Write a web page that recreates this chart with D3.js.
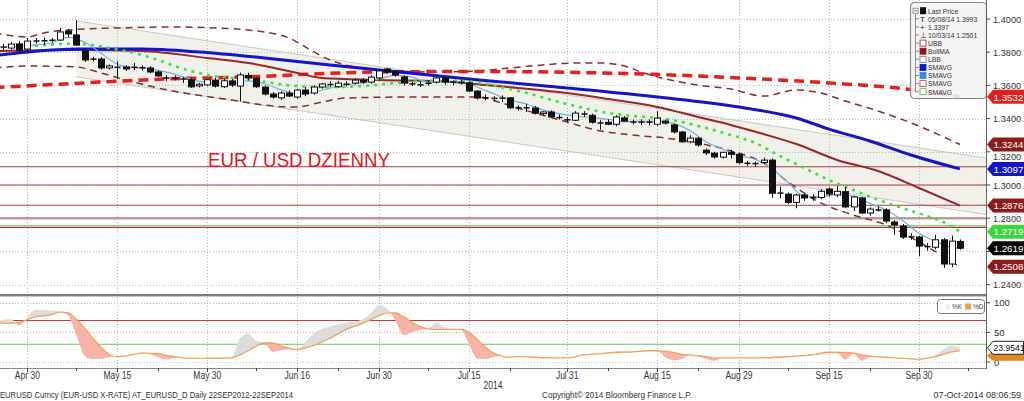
<!DOCTYPE html>
<html><head><meta charset="utf-8">
<script src="https://cdn.jsdelivr.net/npm/d3@7"></script>
<style>body{margin:0;background:#fff}svg{display:block}text{font-family:"Liberation Sans",Arial,sans-serif}</style>
</head><body><svg id="c" width="1024" height="401"></svg>
<script>
// ---------- DATA ----------
const tradingDays = d3.timeDay.range(new Date(2014,3,24), new Date(2014,9,9))
  .filter(d => d.getDay() !== 0 && d.getDay() !== 6).map(d3.timeFormat("%m-%d"));
const candleDates = tradingDays.slice(1, 119); // 04-25 .. 10-07

const openV = [1.3833,1.3825,1.3850,1.3819,1.3866,1.3870,1.3870,1.3873,1.3927,1.3904,1.3807,1.3757,1.3759,1.3705,1.3712,1.3711,1.3707,1.3708,1.3705,1.3681,1.3640,1.3642,1.3640,1.3634,1.3597,1.3603,1.3632,1.3592,1.3627,1.3596,1.3660,1.3643,1.3590,1.3548,1.3525,1.3554,1.3530,1.3572,1.3554,1.3590,1.3608,1.3592,1.3606,1.3614,1.3632,1.3620,1.3645,1.3699,1.3680,1.3651,1.3610,1.3605,1.3610,1.3620,1.3645,1.3618,1.3620,1.3615,1.3566,1.3525,1.3524,1.3522,1.3525,1.3465,1.3463,1.3464,1.3430,1.3440,1.3410,1.3395,1.3390,1.3430,1.3420,1.3375,1.3378,1.3366,1.3404,1.3380,1.3378,1.3380,1.3366,1.3385,1.3362,1.3319,1.3260,1.3282,1.3210,1.3192,1.3168,1.3197,1.3185,1.3130,1.3130,1.3135,1.3150,1.2950,1.2945,1.2895,1.2940,1.2922,1.2925,1.2976,1.2940,1.2960,1.2868,1.2922,1.2831,1.2850,1.2850,1.2777,1.2753,1.2685,1.2687,1.2632,1.2625,1.2670,1.2524,1.2660];
const highV = [1.3850,1.3862,1.3866,1.3886,1.3885,1.3887,1.3885,1.3946,1.3940,1.3993,1.3815,1.3773,1.3770,1.3725,1.3745,1.3722,1.3735,1.3720,1.3715,1.3690,1.3662,1.3660,1.3650,1.3645,1.3615,1.3640,1.3645,1.3640,1.3638,1.3677,1.3676,1.3650,1.3600,1.3560,1.3565,1.3570,1.3580,1.3590,1.3600,1.3615,1.3625,1.3625,1.3625,1.3645,1.3645,1.3660,1.3700,1.3705,1.3692,1.3660,1.3622,1.3625,1.3630,1.3650,1.3655,1.3630,1.3635,1.3625,1.3570,1.3545,1.3535,1.3540,1.3530,1.3480,1.3490,1.3475,1.3445,1.3450,1.3425,1.3410,1.3445,1.3445,1.3430,1.3390,1.3395,1.3420,1.3415,1.3395,1.3395,1.3395,1.3445,1.3395,1.3370,1.3325,1.3300,1.3290,1.3220,1.3200,1.3200,1.3212,1.3195,1.3145,1.3140,1.3165,1.3160,1.2990,1.2955,1.2948,1.2950,1.2945,1.2975,1.2985,1.2995,1.2990,1.2935,1.2930,1.2865,1.2870,1.2860,1.2788,1.2765,1.2710,1.2695,1.2650,1.2700,1.2680,1.2695,1.2672];
const lowV = [1.3812,1.3815,1.3800,1.3795,1.3852,1.3843,1.3858,1.3868,1.3890,1.3837,1.3741,1.3745,1.3695,1.3696,1.3640,1.3687,1.3692,1.3690,1.3673,1.3650,1.3625,1.3630,1.3615,1.3585,1.3588,1.3595,1.3587,1.3585,1.3590,1.3503,1.3630,1.3585,1.3540,1.3520,1.3512,1.3530,1.3520,1.3535,1.3545,1.3580,1.3590,1.3585,1.3595,1.3605,1.3610,1.3610,1.3635,1.3670,1.3652,1.3600,1.3595,1.3590,1.3598,1.3610,1.3605,1.3600,1.3605,1.3560,1.3515,1.3510,1.3505,1.3500,1.3460,1.3450,1.3440,1.3425,1.3420,1.3405,1.3395,1.3380,1.3385,1.3410,1.3370,1.3333,1.3360,1.3355,1.3380,1.3365,1.3360,1.3360,1.3355,1.3365,1.3310,1.3255,1.3250,1.3230,1.3180,1.3160,1.3160,1.3160,1.3125,1.3115,1.3110,1.3125,1.2922,1.2920,1.2885,1.2860,1.2905,1.2905,1.2915,1.2930,1.2925,1.2860,1.2843,1.2825,1.2815,1.2840,1.2770,1.2700,1.2675,1.2670,1.2570,1.2605,1.2612,1.2501,1.2505,1.2610];
const closeV = [1.3829,1.3849,1.3808,1.3867,1.3869,1.3868,1.3874,1.3922,1.3910,1.3843,1.3753,1.3760,1.3705,1.3717,1.3705,1.3699,1.3711,1.3705,1.3681,1.3657,1.3648,1.3643,1.3637,1.3591,1.3607,1.3634,1.3596,1.3628,1.3602,1.3663,1.3645,1.3592,1.3548,1.3530,1.3554,1.3536,1.3572,1.3548,1.3590,1.3609,1.3602,1.3614,1.3608,1.3632,1.3620,1.3650,1.3687,1.3680,1.3662,1.3614,1.3608,1.3602,1.3615,1.3645,1.3620,1.3620,1.3615,1.3566,1.3524,1.3526,1.3520,1.3525,1.3465,1.3463,1.3467,1.3432,1.3440,1.3410,1.3403,1.3390,1.3433,1.3425,1.3378,1.3372,1.3366,1.3410,1.3385,1.3378,1.3380,1.3378,1.3403,1.3373,1.3320,1.3260,1.3283,1.3241,1.3193,1.3169,1.3197,1.3185,1.3135,1.3131,1.3128,1.3150,1.2950,1.2952,1.2895,1.2940,1.2922,1.2925,1.2962,1.2945,1.2962,1.2868,1.2928,1.2831,1.2855,1.2849,1.2783,1.2759,1.2686,1.2690,1.2632,1.2625,1.2670,1.2524,1.2662,1.2619];

// Moving averages / bands
const smaBlueDates = ["04-24","04-30","05-08","05-20","05-29","06-10","06-20","06-30","07-15","07-31","08-15","08-29","09-09","09-15","09-22","09-29","10-07"];
const smaBlueVals  = [1.3780,1.3801,1.3819,1.3819,1.3801,1.3765,1.3723,1.3693,1.3639,1.3584,1.3530,1.3470,1.3404,1.3337,1.3265,1.3181,1.3097];
const bollMaDates = ["04-24","05-08","05-20","05-30","06-06","06-16","06-19","06-30","07-11","07-17","07-31","08-07","08-15","08-22","08-28","09-03","09-09","09-16","09-23","09-30","10-07"];
const bollMaVals  = [1.3807,1.3813,1.3807,1.3765,1.3735,1.3675,1.3645,1.3633,1.3621,1.3602,1.3554,1.3518,1.3470,1.3410,1.3362,1.3307,1.3247,1.3151,1.3084,1.2982,1.2876];
const smaGreenDates = ["04-29","05-02","05-08","05-12","05-14","05-16","05-20","05-22","05-26","05-28","05-30","06-04","06-10","06-16","06-20","06-26","07-02","07-08","07-14","07-17","07-22","07-25","07-30","08-04","08-07","08-12","08-15","08-20","08-25","08-28","09-02","09-05","09-10","09-15","09-18","09-23","09-26","10-01","10-03","10-07"];
const smaGreenVals  = [1.3831,1.3843,1.3852,1.3843,1.3825,1.3807,1.3783,1.3753,1.3717,1.3687,1.3663,1.3645,1.3621,1.3596,1.3590,1.3596,1.3614,1.3627,1.3627,1.3608,1.3578,1.3542,1.3500,1.3464,1.3434,1.3416,1.3404,1.3380,1.3343,1.3301,1.3253,1.3175,1.3102,1.3030,1.2970,1.2910,1.2861,1.2813,1.2777,1.2719];
const smaLightDates = ["04-25","04-29","05-01","05-05","05-07","05-09","05-13","05-15","05-19","05-21","05-23","05-27","05-29","06-02","06-04","06-06","06-10","06-12","06-16","06-18","06-20","06-24","06-26","06-30","07-02","07-04","07-08","07-10","07-14","07-16","07-18","07-22","07-24","07-28","07-30","08-01","08-05","08-07","08-11","08-13","08-15","08-19","08-21","08-25","08-27","08-29","09-02","09-04","09-08","09-10","09-12","09-16","09-18","09-22","09-24","09-26","09-30","10-02","10-06","10-07"];
const smaLightVals  = [1.3830,1.3835,1.3844,1.3857,1.3889,1.3860,1.3794,1.3728,1.3707,1.3700,1.3680,1.3653,1.3625,1.3613,1.3613,1.3627,1.3610,1.3574,1.3548,1.3560,1.3584,1.3605,1.3615,1.3639,1.3660,1.3650,1.3620,1.3618,1.3623,1.3589,1.3550,1.3512,1.3488,1.3453,1.3430,1.3415,1.3406,1.3395,1.3382,1.3384,1.3385,1.3371,1.3328,1.3259,1.3217,1.3176,1.3155,1.3099,1.3015,1.2932,1.2929,1.2943,1.2933,1.2889,1.2849,1.2786,1.2710,1.2661,1.2623,1.2620];
const smaRedDates = ["04-24","05-09","05-23","06-06","06-18","06-30","07-17","08-01","08-15","08-29","09-15","09-26","10-07"];
const smaRedVals  = [1.3587,1.3615,1.3639,1.3651,1.3669,1.3681,1.3684,1.3678,1.3666,1.3645,1.3615,1.3581,1.3532];
const ubbDates = ["04-24","04-30","05-02","05-09","05-15","05-23","06-02","06-06","06-13","06-17","06-20","06-25","06-30","07-08","07-16","07-22","07-28","08-01","08-06","08-11","08-13","08-18","08-22","08-28","09-03","09-09","09-12","09-17","09-23","09-30","10-07"];
const ubbVals  = [1.3916,1.3892,1.3916,1.3940,1.3946,1.3952,1.3946,1.3934,1.3886,1.3831,1.3753,1.3711,1.3693,1.3681,1.3687,1.3705,1.3723,1.3735,1.3735,1.3717,1.3681,1.3639,1.3602,1.3578,1.3536,1.3572,1.3554,1.3506,1.3446,1.3355,1.3244];
const lbbDates = ["04-24","04-30","05-08","05-13","05-16","05-22","05-28","06-04","06-11","06-16","06-19","06-24","07-04","07-16","07-21","07-25","07-31","08-05","08-12","08-18","08-22","08-28","09-03","09-08","09-12","09-18","09-24","09-30","10-07"];
const lbbVals  = [1.3705,1.3717,1.3711,1.3675,1.3633,1.3584,1.3548,1.3512,1.3476,1.3470,1.3500,1.3524,1.3530,1.3530,1.3494,1.3434,1.3380,1.3337,1.3301,1.3283,1.3253,1.3205,1.3133,1.3018,1.2892,1.2819,1.2759,1.2657,1.2508];

// trend channel (two anchor points each)
const channelDates = ["05-08","10-08"];
const channelUpper = [1.3988,1.3179];
const channelLower = [1.3651,1.2839];

// horizontal levels
const redLevels = [1.3110,1.3000,1.2878,1.2745];
const grayLevel = 1.2800;
const greenLevel = 1.2755;

// price axis ticks (1.2600 label is hidden behind the last-price tag in the original)
const priceTicks = [1.40,1.38,1.36,1.34,1.32,1.30,1.28,1.26,1.24];
const priceLabelTicks = [1.40,1.38,1.36,1.34,1.32,1.30,1.28,1.24];

// value tags
const tagVals   = [1.3532,1.3244,1.3097,1.2876,1.2719,1.2619,1.2508];
const tagColors = ["#e3201b","#8c1b1b","#1414c8","#8c1b1b","#3cd63c","#000000","#8c1b1b"];

// x axis
const xLabelDates = ["04-30","05-15","05-30","06-16","06-30","07-15","07-31","08-15","08-29","09-15","09-30"];
const xLabels = ["Apr 30","May 15","May 30","Jun 16","Jun 30","Jul 15","Jul 31","Aug 15","Aug 29","Sep 15","Sep 30"];
const xMinorDates = ["05-08","05-22","06-09","06-23","07-08","07-22","08-07","08-22","09-08","09-22","10-08"];

// stochastic
const stochDates = ["04-24","04-28","04-29","05-01","05-05","05-06","05-07","05-08","05-09","05-12","05-13","05-14","05-15","05-16","05-20","05-22","05-23","05-26","05-28","05-30","06-04","06-05","06-06","06-09","06-10","06-11","06-12","06-13","06-16","06-17","06-18","06-20","06-24","06-26","06-27","06-30","07-01","07-02","07-03","07-04","07-07","07-08","07-09","07-10","07-11","07-14","07-15","07-16","07-17","07-18","07-21","07-22","07-23","07-25","07-29","07-31","08-04","08-06","08-08","08-12","08-14","08-15","08-18","08-19","08-20","08-21","08-25","08-26","08-27","08-29","09-03","09-08","09-11","09-15","09-16","09-17","09-18","09-19","09-22","09-24","09-26","09-30","10-02","10-06","10-07"];
const stochD = [67,65,67,76,80,84,83,72,57,40,25,13,9,10,15,14,11,9,6,6,7,12,19,27,32,32,27,23,21,24,28,40,55,65,72,78,83,83,76,67,60,56,55,55,55,55,50,38,25,15,10,8,9,8,7,7,12,14,16,17,19,19,18,16,13,12,9,7,7,7,7,9,12,16,16,16,15,12,10,8,6,5,9,17,19];
const stochK = [70,72,62,88,87,85,78,45,10,5,5,8,10,12,16,8,4,7,6,7,9,40,48,35,33,17,20,21,20,34,48,60,66,72,82,96,90,70,45,50,54,56,66,58,55,55,30,6,5,8,10,8,9,8,7,8,13,15,18,18,20,20,8,3,5,12,5,2,7,7,8,10,13,18,16,4,14,2,8,8,6,4,12,28,23.9541];
const stochTicks = [100,50,0];
const stochLevels = [70,30];

// ---------- SCALES ----------
const svg = d3.select("#c");
const W = 1024, PR = 986;
const x = d3.scalePoint().domain(tradingDays).range([-5.38, 968.04]);
const y = d3.scaleLinear().domain([1.24, 1.40]).range([284.6, 19]);
const ys = d3.scaleLinear().domain([0, 100]).range([362, 302.7]);

function condense(sel, f) {
  sel.each(function(){ const l = this.getComputedTextLength(); d3.select(this).attr("textLength", l*f).attr("lengthAdjust","spacingAndGlyphs"); });
}

svg.append("rect").attr("width", W).attr("height", 401).attr("fill", "#fff");
const defs = svg.append("defs");
defs.append("clipPath").attr("id","cu").append("rect").attr("x",0).attr("y",0).attr("width",PR).attr("height",294);
defs.append("clipPath").attr("id","cl").append("rect").attr("x",0).attr("y",297).attr("width",PR).attr("height",71);

// ---------- UPPER PANEL ----------
const up = svg.append("g").attr("clip-path","url(#cu)");

// channel
const cx0 = x(channelDates[0]), cx1 = x(channelDates[1]);
const cu = d3.scaleLinear().domain([cx0,cx1]).range([y(channelUpper[0]), y(channelUpper[1])]);
const cl = d3.scaleLinear().domain([cx0,cx1]).range([y(channelLower[0]), y(channelLower[1])]);
up.append("path").attr("d", `M${cx0},${cu(cx0)}L${PR},${cu(PR)}L${PR},${cl(PR)}L${cx0},${cl(cx0)}Z`).attr("fill","#f1f1ec");
up.append("line").attr("x1",cx0).attr("y1",cu(cx0)).attr("x2",PR).attr("y2",cu(PR)).attr("stroke","#c9c9c0").attr("stroke-width",1);
up.append("line").attr("x1",cx0).attr("y1",cl(cx0)).attr("x2",PR).attr("y2",cl(PR)).attr("stroke","#c9c9c0").attr("stroke-width",1);

// grid
up.selectAll("line.hg").data(priceTicks).join("line").attr("x1",0).attr("x2",PR)
  .attr("y1",d=>Math.round(y(d))+0.5).attr("y2",d=>Math.round(y(d))+0.5).attr("stroke","#b8b8b8").attr("stroke-dasharray","1,2");
up.selectAll("line.vg").data(xLabelDates).join("line").attr("y1",0).attr("y2",294)
  .attr("x1",d=>Math.round(x(d))+0.5).attr("x2",d=>Math.round(x(d))+0.5).attr("stroke","#b8b8b8").attr("stroke-dasharray","1,2");

// horizontal levels
up.append("line").attr("x1",0).attr("x2",PR).attr("y1",y(grayLevel)).attr("y2",y(grayLevel)).attr("stroke","#bf9898").attr("stroke-width",2.4);
up.append("line").attr("x1",0).attr("x2",PR).attr("y1",y(greenLevel)).attr("y2",y(greenLevel)).attr("stroke","#86d886").attr("stroke-width",1.2);
up.selectAll("line.rl").data(redLevels).join("line").attr("x1",0).attr("x2",PR)
  .attr("y1",d=>y(d)).attr("y2",d=>y(d)).attr("stroke","#b23a3a").attr("stroke-width",1.2);

const mk = (dates, vals) => dates.map((d,i)=>[d, vals[i]]);
const line = d3.line().x(d=>x(d[0])).y(d=>y(d[1])).curve(d3.curveMonotoneX);

up.append("path").attr("d", line(mk(ubbDates, ubbVals))).attr("fill","none").attr("stroke","#8a2c2c").attr("stroke-width",1.5).attr("stroke-dasharray","7,5");
up.append("path").attr("d", line(mk(lbbDates, lbbVals))).attr("fill","none").attr("stroke","#8a2c2c").attr("stroke-width",1.5).attr("stroke-dasharray","7,5");
up.append("path").attr("d", line(mk(smaRedDates, smaRedVals))).attr("fill","none").attr("stroke","#e3201b").attr("stroke-width",3.5).attr("stroke-dasharray","10,6");
up.append("path").attr("d", line(mk(bollMaDates, bollMaVals))).attr("fill","none").attr("stroke","#9b2424").attr("stroke-width",2);
up.append("path").attr("d", line(mk(smaBlueDates, smaBlueVals))).attr("fill","none").attr("stroke","#1414c8").attr("stroke-width",3);
up.append("path").attr("d", line(mk(smaGreenDates, smaGreenVals))).attr("fill","none").attr("stroke","#3ee03e").attr("stroke-width",2.6).attr("stroke-dasharray","3,5");
up.append("path").attr("d", line(mk(smaLightDates, smaLightVals))).attr("fill","none").attr("stroke","#6fb0e0").attr("stroke-width",1.2);

// candles
const cdata = candleDates.map((d,i)=>({d, o:openV[i], h:highV[i], l:lowV[i], c:closeV[i]}));
up.selectAll("line.wick").data(cdata).join("line")
  .attr("x1",d=>Math.round(x(d.d))+0.5).attr("x2",d=>Math.round(x(d.d))+0.5)
  .attr("y1",d=>y(d.h)).attr("y2",d=>y(d.l)).attr("stroke","#111").attr("stroke-width",1);
up.selectAll("rect.body").data(cdata).join("rect")
  .attr("x",d=>Math.round(x(d.d))-2.5).attr("width",6)
  .attr("y",d=>{const h=Math.abs(y(d.o)-y(d.c)); return h<1.5 ? (y(d.o)+y(d.c))/2-0.75 : y(Math.max(d.o,d.c));})
  .attr("height",d=>Math.max(1.5, Math.abs(y(d.o)-y(d.c))))
  .attr("fill",d=>(Math.abs(y(d.o)-y(d.c))<1.5 || d.c<d.o) ? "#111" : "#fff")
  .attr("stroke","#111").attr("stroke-width",d=>Math.abs(y(d.o)-y(d.c))<1.5?0:1);

// title
const tt = svg.append("text").attr("x",208).attr("y",167).attr("fill","#e4141c").attr("font-size",21).text("EUR / USD DZIENNY");
tt.attr("textLength",182).attr("lengthAdjust","spacingAndGlyphs");

// legend (upper)
const lg = svg.append("g");
lg.append("rect").attr("x",910.5).attr("y",2.5).attr("width",76).attr("height",96).attr("rx",4)
  .attr("fill","#f3f3f3").attr("fill-opacity",0.88).attr("stroke","#8a8a8a").attr("stroke-width",1.2);
const legRows = ["Last Price","05/08/14 1.3993","1.3397","10/03/14 1.2501","UBB","BollMA","LBB","SMAVG","SMAVG","SMAVG","SMAVG"];
const legY = d3.range(legRows.length).map(i=>10.7+i*8.1);
lg.append("line").attr("x1",915.5).attr("x2",915.5).attr("y1",14).attr("y2",legY[10]).attr("stroke","#777").attr("stroke-width",0.8);
lg.selectAll("line.br").data(legY.slice(1)).join("line").attr("x1",915.5).attr("x2",919).attr("y1",d=>d).attr("y2",d=>d).attr("stroke","#777").attr("stroke-width",0.8);
lg.append("rect").attr("x",913).attr("y",legY[0]-2.5).attr("width",5).attr("height",5).attr("fill","#fff").attr("stroke","#666").attr("stroke-width",0.7);
lg.append("line").attr("x1",914).attr("x2",917).attr("y1",legY[0]).attr("y2",legY[0]).attr("stroke","#333").attr("stroke-width",0.7);
lg.append("rect").attr("x",920).attr("y",legY[0]-3.5).attr("width",6).attr("height",7).attr("fill","#111");
lg.append("text").attr("x",920).attr("y",legY[1]+3).attr("font-size",8).attr("fill","#222").text("T");
lg.append("text").attr("x",920).attr("y",legY[2]+3).attr("font-size",8).attr("fill","#222").text("+");
lg.append("text").attr("x",920).attr("y",legY[3]+3).attr("font-size",8).attr("fill","#222").text("⊥");
const iconSpec = [[4,"#fff","#8a2c2c"],[5,"#8c1b1b","#8c1b1b"],[6,"#fff","#777"],[7,"#1414c8","#1414c8"],[8,"#2d8ee8","#2d8ee8"],[9,"#fff","#c33"],[10,"#fff","#3c3"]];
lg.selectAll("rect.ic").data(iconSpec).join("rect").attr("x",920).attr("y",d=>legY[d[0]]-3).attr("width",6).attr("height",6)
  .attr("fill",d=>d[1]).attr("stroke",d=>d[2]).attr("stroke-width",0.8);
lg.selectAll("text.lt").data(legRows).join("text").attr("x",928).attr("y",(d,i)=>legY[i]+2.8)
  .attr("font-size",8).attr("fill","#333").text(d=>d).call(condense, 0.85);

// ---------- LOWER PANEL ----------
const lo = svg.append("g").attr("clip-path","url(#cl)");
lo.selectAll("line.hg").data(stochTicks).join("line").attr("x1",0).attr("x2",PR)
  .attr("y1",d=>Math.round(ys(d))+0.5).attr("y2",d=>Math.round(ys(d))+0.5).attr("stroke","#b8b8b8").attr("stroke-dasharray","1,2");
lo.selectAll("line.vg").data(xLabelDates).join("line").attr("y1",297).attr("y2",368)
  .attr("x1",d=>Math.round(x(d))+0.5).attr("x2",d=>Math.round(x(d))+0.5).attr("stroke","#b8b8b8").attr("stroke-dasharray","1,2");
lo.selectAll("line.sl").data(stochLevels).join("line").attr("x1",0).attr("x2",PR)
  .attr("y1",d=>ys(d)).attr("y2",d=>ys(d)).attr("stroke",(d,i)=>i===0?"#c23b3b":"#5fc95f").attr("stroke-width",1.1);

const sdata = stochDates.map((d,i)=>({d, k:stochK[i], dd:stochD[i]}));
const cv = d3.curveMonotoneX;
defs.append("clipPath").attr("id","aboveD").append("path")
  .attr("d", d3.area().x(d=>x(d.d)).y0(297).y1(d=>ys(d.dd)).curve(cv)(sdata));
defs.append("clipPath").attr("id","belowD").append("path")
  .attr("d", d3.area().x(d=>x(d.d)).y0(368).y1(d=>ys(d.dd)).curve(cv)(sdata));
const between = d3.area().x(d=>x(d.d)).y0(d=>ys(d.dd)).y1(d=>ys(d.k)).curve(cv)(sdata);
lo.append("g").attr("clip-path","url(#aboveD)").append("path").attr("d",between).attr("fill","#dcdcdc");
lo.append("g").attr("clip-path","url(#belowD)").append("path").attr("d",between).attr("fill","#f6b3a8");
lo.append("path").attr("d", d3.line().x(d=>x(d.d)).y(d=>ys(d.dd)).curve(cv)(sdata)).attr("fill","none").attr("stroke","#f0a45a").attr("stroke-width",1.3);

// lower legend
svg.append("rect").attr("x",937.5).attr("y",299.5).attr("width",47).attr("height",14).attr("rx",3).attr("fill","#fff").attr("stroke","#777").attr("stroke-width",1);
svg.append("rect").attr("x",945).attr("y",304).attr("width",5).attr("height",5).attr("fill","#eee");
svg.append("text").attr("x",952).attr("y",309).attr("font-size",6.5).attr("fill","#444").text("%K");
svg.append("rect").attr("x",965).attr("y",303.5).attr("width",6).attr("height",6).attr("fill","#f0a040");
svg.append("text").attr("x",973).attr("y",309).attr("font-size",6.5).attr("fill","#444").text("%D");

// separators / frames
svg.append("line").attr("x1",0).attr("x2",PR+1).attr("y1",295).attr("y2",295).attr("stroke","#7a7a7a").attr("stroke-width",2);
svg.append("line").attr("x1",0).attr("x2",PR+1).attr("y1",296.5).attr("y2",296.5).attr("stroke","#c8c8c8").attr("stroke-width",1);
svg.append("line").attr("x1",0).attr("x2",PR+1).attr("y1",368.5).attr("y2",368.5).attr("stroke","#8a8a8a").attr("stroke-width",1);
svg.append("line").attr("x1",PR+0.5).attr("x2",PR+0.5).attr("y1",0).attr("y2",369).attr("stroke","#666").attr("stroke-width",1);

// price axis
const pa = svg.append("g");
pa.selectAll("line").data(priceTicks).join("line").attr("x1",PR).attr("x2",PR+4).attr("y1",d=>y(d)).attr("y2",d=>y(d)).attr("stroke","#444");
pa.selectAll("text").data(priceLabelTicks).join("text").attr("x",993)
  .attr("y",d=>y(d)+3.5+(d===1.32?5:0)).attr("font-size",9.2).attr("fill","#333")
  .text(d=>d3.format(".4f")(d));

// tags
const tg = svg.append("g");
tagVals.forEach((v,i)=>{
  const g = tg.append("g").attr("transform",`translate(0,${y(v)})`);
  g.append("path").attr("d","M987,0L993,-7L1024,-7L1024,7L993,7Z").attr("fill",tagColors[i]);
  g.append("text").attr("x",993.5).attr("y",3.8).attr("font-size",9.8).attr("fill","#fff").text(d3.format(".4f")(v));
});

// stoch axis
const sa = svg.append("g");
sa.selectAll("line").data(stochTicks).join("line").attr("x1",PR).attr("x2",PR+4).attr("y1",d=>ys(d)).attr("y2",d=>ys(d)).attr("stroke","#444");
sa.selectAll("text").data(stochTicks).join("text").attr("x",994).attr("y",d=>ys(d)+3.5).attr("font-size",9.5).attr("fill","#333").text(d=>d);
const dLast = stochD[stochD.length-1], kLast = stochK[stochK.length-1];
sa.append("path").attr("transform",`translate(0,${ys(dLast)+5})`).attr("d","M987,0L993,-5L1024,-5L1024,5L993,5Z").attr("fill","#e8861e");
const kt = sa.append("g").attr("transform",`translate(0,${ys(kLast)})`);
kt.append("path").attr("d","M987.5,0L993,-6.5L1023.5,-6.5L1023.5,6.5L993,6.5Z").attr("fill","#fff").attr("stroke","#222");
kt.append("text").attr("x",993.5).attr("y",3.6).attr("font-size",8.6).attr("fill","#111").text(d3.format(".4f")(kLast));

// x axis
const xa = svg.append("g");
xa.selectAll("line.mj").data(xLabelDates).join("line").attr("x1",d=>Math.round(x(d))+0.5).attr("x2",d=>Math.round(x(d))+0.5).attr("y1",368).attr("y2",372).attr("stroke","#444");
xa.selectAll("line.mn").data(xMinorDates).join("line").attr("x1",d=>Math.round(x(d))+0.5).attr("x2",d=>Math.round(x(d))+0.5).attr("y1",368).attr("y2",371).attr("stroke","#444");
xa.selectAll("text").data(xLabels).join("text").attr("x",(d,i)=>x(xLabelDates[i])).attr("y",379).attr("text-anchor","middle")
  .attr("font-size",10).attr("fill","#333").text(d=>d).call(condense,0.85);
svg.append("text").attr("x",493).attr("y",389).attr("text-anchor","middle").attr("font-size",10).attr("fill","#333").text("2014").call(condense,0.85);

// footer
svg.append("text").attr("x",0).attr("y",398).attr("font-size",9).attr("fill","#333")
  .text("EURUSD Curncy (EUR-USD X-RATE) AT_EURUSD_D  Daily 22SEP2012-22SEP2014").attr("textLength",293).attr("lengthAdjust","spacingAndGlyphs");
svg.append("text").attr("x",542).attr("y",398).attr("font-size",9).attr("fill","#333")
  .text("Copyright© 2014 Bloomberg Finance L.P.").attr("textLength",150).attr("lengthAdjust","spacingAndGlyphs");
svg.append("text").attr("x",1021).attr("y",398).attr("font-size",9).attr("fill","#333").attr("text-anchor","end")
  .text("07-Oct-2014 08:06:59");
</script></body></html>
